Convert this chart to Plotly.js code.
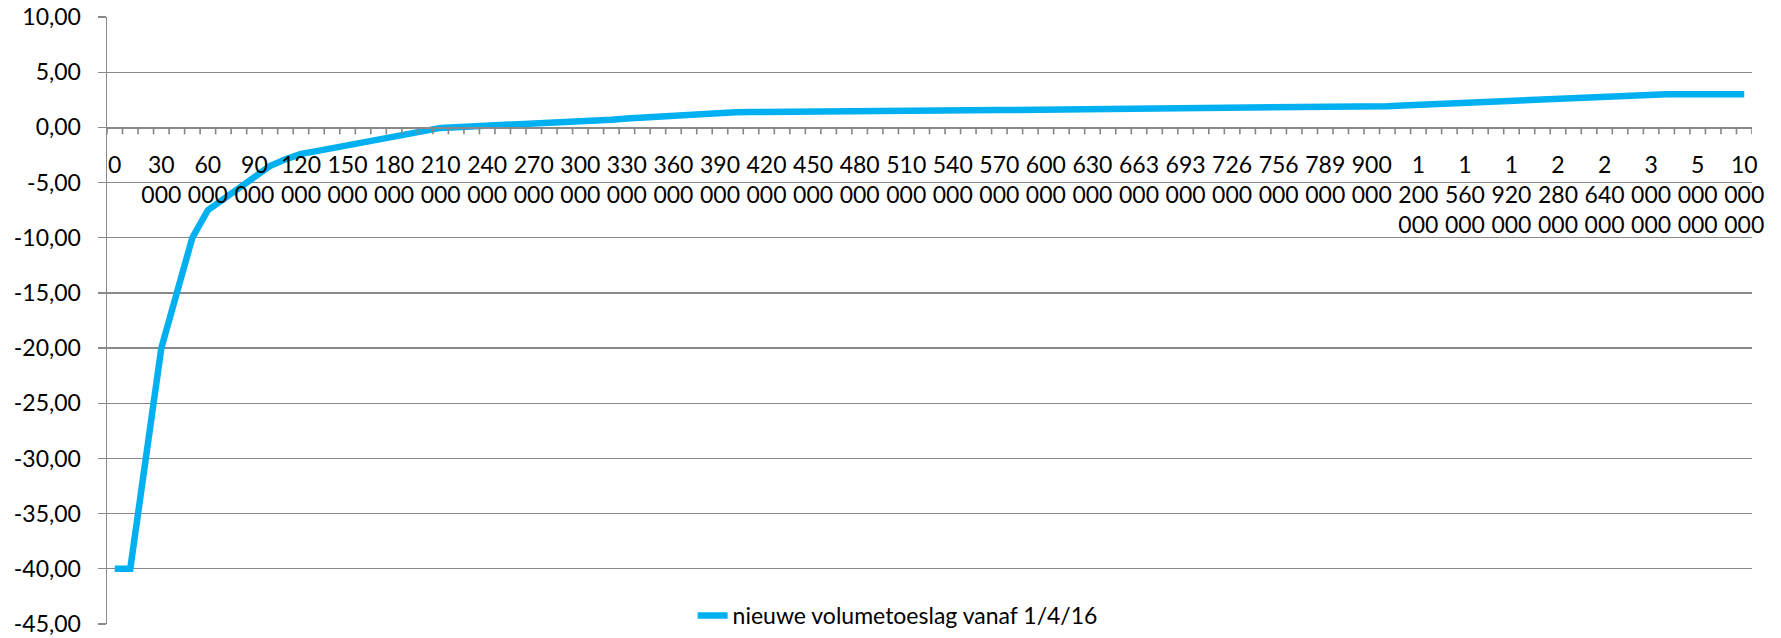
<!DOCTYPE html>
<html>
<head>
<meta charset="utf-8">
<script src="https://cdn.plot.ly/plotly-3.0.1.min.js"></script>
<style>
  html, body { margin: 0; padding: 0; background: #fff; }
  #chart { width: 1781px; height: 638px; }
</style>
</head>
<body>
<div id="chart"></div>
<script>
// ---- Data ----
const xValues = [
  0, 10000, 20000, 30000, 40000, 50000, 60000, 70000, 80000, 90000,
  100000, 110000, 120000, 130000, 140000, 150000, 160000, 170000, 180000, 190000,
  200000, 210000, 220000, 230000, 240000, 250000, 260000, 270000, 280000, 290000,
  300000, 310000, 320000, 330000, 340000, 350000, 360000, 370000, 380000, 390000,
  400000, 410000, 420000, 430000, 440000, 450000, 460000, 470000, 480000, 490000,
  500000, 510000, 520000, 530000, 540000, 550000, 560000, 570000, 580000, 590000,
  600000, 610000, 620000, 630000, 641000, 652000, 663000, 673000, 683000, 693000,
  704000, 715000, 726000, 736000, 746000, 756000, 767000, 778000, 789000, 826000,
  863000, 900000, 1000000, 1100000, 1200000, 1320000, 1440000, 1560000, 1680000, 1800000,
  1920000, 2040000, 2160000, 2280000, 2400000, 2520000, 2640000, 2760000, 2880000, 3000000,
  3500000, 4000000, 5000000, 6000000, 8000000, 10000000
];

const volumetoeslag = [
  -40, -40, -30, -20, -15, -10, -7.5, -6.5, -5.4, -4.4,
  -3.5, -2.9, -2.4, -2.15, -1.9, -1.65, -1.4, -1.15, -0.9, -0.65,
  -0.35, -0.05, 0.02, 0.08, 0.13, 0.18, 0.23, 0.28, 0.34, 0.4,
  0.47, 0.56, 0.68, 0.8, 0.9, 1.0, 1.08, 1.16, 1.24, 1.32,
  1.36, 1.39, 1.41, 1.43, 1.44, 1.45, 1.46, 1.47, 1.48, 1.49,
  1.5, 1.51, 1.52, 1.53, 1.54, 1.55, 1.56, 1.57, 1.58, 1.59,
  1.6, 1.61, 1.62, 1.63, 1.64, 1.65, 1.66, 1.67, 1.68, 1.69,
  1.7, 1.71, 1.72, 1.73, 1.74, 1.75, 1.77, 1.79, 1.81, 1.83,
  1.85, 1.87, 1.92, 1.98, 2.04, 2.11, 2.18, 2.25, 2.32, 2.39,
  2.46, 2.53, 2.6, 2.67, 2.74, 2.81, 2.88, 2.94, 2.98, 3.0,
  3.0, 3.0, 3.0, 3.0, 3.0, 3.0
];

const seriesName = 'nieuwe volumetoeslag vanaf 1/4/16';
const yTickValues = [10, 5, 0, -5, -10, -15, -20, -25, -30, -35, -40, -45];
const yMin = -45, yMax = 10;
const labelEvery = 3;

// ---- Derived labels ----
const fmt = n => String(n).replace(/\B(?=(\d{3})+(?!\d))/g, ' ');
const categories = xValues.map(fmt);
const xTickText = categories.map((c, i) => (i % labelEvery === 0 ? c.replace(/ /g, '<br>') : ''));
const yTickText = yTickValues.map(v => v.toFixed(2).replace('.', ','));

const gridCol = '#898989';
const tickCol = '#858585';
const font = { family: 'Lato, "Open Sans", sans-serif', size: 23, color: '#000000' };
const axisPos = (0 - yMin) / (yMax - yMin);

// Excel-style tick marks on every category boundary of the x axis (at y = 0)
const boundaryTicks = [];
for (let i = 0; i <= categories.length; i++) {
  boundaryTicks.push({
    type: 'line', xref: 'x', yref: 'y',
    x0: i - 0.5, x1: i - 0.5,
    ysizemode: 'pixel', yanchor: 0, y0: 0, y1: -7,
    line: { color: tickCol, width: 1.6 },
    layer: 'above'
  });
}

const traces = [
  {
    type: 'scatter', mode: 'lines',
    x: categories, y: volumetoeslag,
    name: seriesName,
    line: { color: '#00B0F0', width: 6.5 },
    hoverinfo: 'skip'
  }
];

const layout = {
  width: 1781, height: 638,
  margin: { l: 107, r: 29, t: 17, b: 14, pad: 0, autoexpand: false },
  paper_bgcolor: '#ffffff', plot_bgcolor: '#ffffff',
  font: font,
  showlegend: true,
  legend: {
    x: 0.356, xanchor: 'left',
    y: 0.014, yanchor: 'middle',
    bgcolor: 'rgba(0,0,0,0)',
    font: font,
    itemwidth: 30
  },
  shapes: boundaryTicks,
  xaxis: {
    type: 'category',
    range: [-0.5, categories.length - 0.5],
    anchor: 'free', position: axisPos,
    showline: true, linecolor: gridCol, linewidth: 1.5,
    showgrid: false, zeroline: false,
    ticks: '',
    tickmode: 'array', tickvals: categories, ticktext: xTickText,
    tickangle: 0,
    ticklabelstandoff: 17,
    tickfont: font
  },
  yaxis: {
    range: [yMin, yMax],
    tickmode: 'array', tickvals: yTickValues, ticktext: yTickText,
    showgrid: true, gridcolor: gridCol, gridwidth: 1.2,
    zeroline: false,
    showline: true, linecolor: gridCol, linewidth: 1.5,
    ticks: 'outside', ticklen: 8, tickwidth: 1.2, tickcolor: gridCol,
    ticklabelstandoff: 12,
    tickfont: font
  }
};

Plotly.newPlot('chart', traces, layout, { staticPlot: true, displayModeBar: false });
</script>
</body>
</html>
